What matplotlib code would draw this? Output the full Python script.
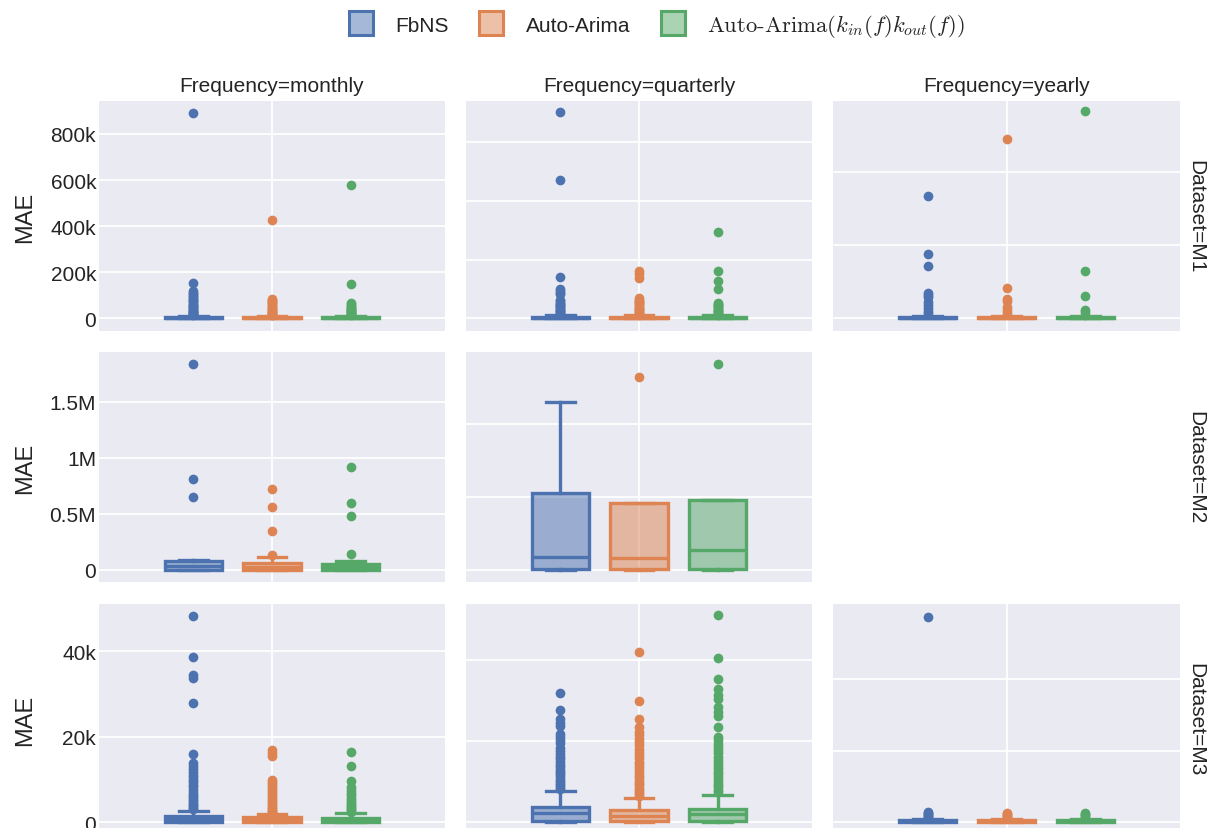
import matplotlib
matplotlib.use('Agg')
import matplotlib.pyplot as plt
from matplotlib.colors import to_rgba
from matplotlib.lines import Line2D

plt.rcParams['font.family'] = ['Liberation Sans', 'DejaVu Sans']

METHODS = ['FbNS', 'Auto-Arima', r'Auto-Arima$(k_{in}(f)k_{out}(f))$']
COLORS = ['#4C72B0', '#DD8452', '#55A868']
FREQS = ['monthly', 'quarterly', 'yearly']
DATASETS = ['M1', 'M2', 'M3']

# all MAE values in thousands
# box stats per method: (q1, median, q3, lower whisker, upper whisker)
m1_monthly_box = [(0.5, 2, 5, 0, 12), (0.3, 1.5, 4, 0, 9), (0.3, 1.5, 4, 0, 9)]
m1_monthly_out = [
    [890, 155, 118, 112, 105, 98, 92, 86, 80, 75, 70, 64, 58, 53, 48, 44, 40, 36, 32, 29, 26, 23, 20, 18, 16],
    [428, 82, 78, 74, 70, 65, 60, 55, 50, 45, 40, 36, 32, 28, 25, 22, 19, 16, 14],
    [579, 147, 65, 60, 55, 50, 46, 42, 38, 34, 30, 27, 24, 21, 18, 15],
]
m1_quarterly_box = [(0.5, 2, 6, 0, 13), (0.5, 2, 5, 0, 11), (0.5, 2, 5, 0, 10)]
m1_quarterly_out = [
    [702, 472, 142, 101, 94, 88, 84, 62, 58, 54, 50, 46, 42, 38, 34, 30, 27, 24, 21, 18, 15],
    [162, 152, 136, 68, 64, 60, 56, 52, 48, 44, 40, 36, 32, 28, 25, 22, 19, 16, 13],
    [294, 160, 128, 100, 54, 50, 46, 42, 38, 34, 30, 27, 24, 21, 18, 15, 12],
]
m1_yearly_box = [(0.3, 1, 3, 0, 6), (0.3, 1, 3, 0, 6), (0.3, 1, 3, 0, 6)]
m1_yearly_out = [
    [334, 176, 142, 70, 64, 58, 45, 36, 28, 20, 14],
    [490, 82, 54, 48, 30, 22, 14],
    [568, 128, 60, 22, 16, 10],
]
m2_monthly_box = [(4, 40, 78, 0, 90), (3, 25, 62, 0, 115), (3, 25, 55, 0, 80)]
m2_monthly_out = [
    [1840, 810, 650],
    [720, 560, 350, 135],
    [920, 600, 480, 140],
]
m2_quarterly_box = [(8, 89, 527, 0, 1150), (6, 82, 459, 0, 459), (6, 137, 479, 0, 479)]
m2_quarterly_out = [
    [],
    [1320],
    [1410],
]
m3_monthly_box = [(0.2, 0.8, 1.6, 0, 2.7), (0.15, 0.5, 1.2, 0, 1.9), (0.15, 0.5, 1.1, 0, 2.1)]
m3_monthly_out = [
    [48.4, 38.8, 34.6, 33.8, 28.0, 15.9, 13.8, 13.2, 12.5, 11.9, 11.2, 10.6, 10.0, 9.4, 8.8,
     8.2, 7.6, 7.0, 6.5, 6.0, 5.5, 5.0, 4.6, 4.2, 3.8, 3.4, 3.1],
    [17.0, 16.2, 15.6, 10.0, 9.5, 9.0, 8.5, 8.0, 7.5, 7.0, 6.5, 6.0, 5.5, 5.0, 4.5, 4.1, 3.7,
     3.3, 3.0, 2.7, 2.4],
    [16.4, 13.3, 9.6, 8.4, 7.6, 7.0, 6.4, 5.8, 5.3, 4.8, 4.3, 3.9, 3.5, 3.1, 2.8, 2.5],
]
m3_quarterly_box = [(0.4, 2.4, 3.7, 0, 7.6), (0.3, 1.6, 3.0, 0, 5.9), (0.3, 2.0, 3.3, 0, 6.7)]
m3_quarterly_out = [
    [31.9, 27.7, 25.6, 24.6, 23.8, 21.9, 21.1, 20.3, 19.5, 18.4, 17.6, 16.9, 16.2, 15.5, 14.8,
     14.2, 13.6, 13.0, 12.4, 11.8, 11.3, 10.8, 10.3, 9.8, 9.3, 8.8, 8.3],
    [42.0, 29.9, 25.4, 23.6, 22.4, 21.5, 20.6, 19.8, 19.0, 18.2, 17.4, 16.6, 15.8, 15.0, 14.3,
     13.6, 12.9, 12.2, 11.5, 10.9, 10.3, 9.7, 9.1, 8.5, 8.0, 7.5, 7.0, 6.6],
    [51.1, 40.5, 35.3, 32.8, 31.5, 30.4, 28.4, 27.2, 26.2, 23.5, 21.0, 20.2, 19.4, 18.6, 17.8,
     17.0, 16.2, 15.4, 14.6, 13.9, 13.2, 12.5, 11.8, 11.1, 10.4, 9.8, 9.2, 8.6, 8.0, 7.4],
]
m3_yearly_box = [(0.1, 0.3, 0.5, 0, 1.0), (0.1, 0.3, 0.5, 0, 1.0), (0.1, 0.3, 0.5, 0, 1.0)]
m3_yearly_out = [
    [57.2, 2.9, 2.6, 2.3, 2.0, 1.7, 1.4],
    [2.6, 2.3, 2.0, 1.7, 1.4],
    [2.5, 2.2, 1.9, 1.6, 1.3],
]

m1_ticks = [0, 200, 400, 600, 800]
m1_ticklabels = ['0', '200k', '400k', '600k', '800k']
m2_ticks = [0, 500, 1000, 1500]
m2_ticklabels = ['0', '0.5M', '1M', '1.5M']
m3_ticks = [0, 20, 40]
m3_ticklabels = ['0', '20k', '40k']

# (row, col): (boxes, outliers, ticks, ylim)
panels = {
    (0, 0): (m1_monthly_box, m1_monthly_out, m1_ticks, (-55, 943)),
    (0, 1): (m1_quarterly_box, m1_quarterly_out, [0, 200, 400, 600], (-43, 740)),
    (0, 2): (m1_yearly_box, m1_yearly_out, [0, 200, 400], (-35, 595)),
    (1, 0): (m2_monthly_box, m2_monthly_out, m2_ticks, (-107, 1943)),
    (1, 1): (m2_quarterly_box, m2_quarterly_out, [0, 500, 1000], (-84, 1495)),
    (2, 0): (m3_monthly_box, m3_monthly_out, m3_ticks, (-2.7, 51.1)),
    (2, 1): (m3_quarterly_box, m3_quarterly_out, m3_ticks, (-2.9, 53.9)),
    (2, 2): (m3_yearly_box, m3_yearly_out, m3_ticks, (-3.3, 60.9)),
}
row_ticklabels = [m1_ticklabels, m2_ticklabels, m3_ticklabels]

W, H = 1211, 829
TEXT = '#242424'
BG = '#EAEAF2'
col_x = [(99, 445), (466, 812), (833, 1180)]
row_y = [(102, 332), (353, 583), (605, 835)]
positions = [-0.227, 0.0, 0.227]
box_width = 0.165

fig = plt.figure(figsize=(W / 100, H / 100), dpi=100)


def px_axes(x0, x1, y0, y1):
    return fig.add_axes([x0 / W, 1 - y1 / H, (x1 - x0) / W, (y1 - y0) / H])


def draw_panel(ax, boxes, outliers):
    for i, (stats, pts) in enumerate(zip(boxes, outliers)):
        q1, med, q3, lo, hi = stats
        c = COLORS[i]
        line = dict(color=c, linewidth=2.4)
        ax.bxp([dict(q1=q1, med=med, q3=q3, whislo=lo, whishi=hi, fliers=pts)],
               positions=[positions[i]], widths=box_width, patch_artist=True,
               manage_ticks=False,
               boxprops=dict(facecolor=to_rgba(c, 0.5), edgecolor=c, linewidth=2.4),
               medianprops=line, whiskerprops=line, capprops=line,
               flierprops=dict(marker='o', markerfacecolor=c, markeredgecolor=c,
                               markersize=7, markeredgewidth=0, linestyle='none'))


for (r, c), (boxes, outliers, ticks, ylim) in panels.items():
    ax = px_axes(*col_x[c], *row_y[r])
    ax.set_facecolor(BG)
    for s in ax.spines.values():
        s.set_visible(False)
    ax.set_axisbelow(True)
    ax.grid(True, color='white', linewidth=1.3)
    draw_panel(ax, boxes, outliers)
    ax.set_xlim(-0.5, 0.5)
    ax.set_ylim(*ylim)
    ax.set_xticks([0])
    ax.set_xticklabels([])
    ax.set_yticks(ticks)
    if c == 0:
        ax.set_yticklabels(row_ticklabels[r])
    else:
        ax.set_yticklabels([])
    ax.tick_params(length=0, pad=2, labelsize=15, labelcolor=TEXT)

for c, freq in enumerate(FREQS):
    xc = sum(col_x[c]) / 2
    fig.text(xc / W, 1 - 86 / H, f'Frequency={freq}', ha='center', va='center',
             fontsize=15, color=TEXT)

for r, ds in enumerate(DATASETS):
    yc = sum(row_y[r]) / 2 if r < 2 else 720
    fig.text(1196 / W, 1 - yc / H, f'Dataset={ds}', ha='center', va='center',
             rotation=-90, fontsize=15, color=TEXT)
    fig.text(25 / W, 1 - yc / H, 'MAE', ha='center', va='center', rotation=90,
             fontsize=17, color=TEXT)

handles = [Line2D([], [], marker='s', linestyle='none', markersize=17,
                  markerfacecolor=to_rgba(col, 0.5), markeredgecolor=col,
                  markeredgewidth=2.2) for col in COLORS]
leg = fig.legend(handles, METHODS, loc='center', ncol=3,
                 bbox_to_anchor=(656 / W, 1 - 26 / H), frameon=False, fontsize=15,
                 handlelength=1.3, handletextpad=1.0, columnspacing=1.4,
                 labelcolor=TEXT)
math_label = leg.get_texts()[2]
math_label.set_fontfamily('cmr10')
math_label.set_math_fontfamily('cm')
math_label.set_fontsize(16.3)

fig.savefig('out.png', dpi=100)
